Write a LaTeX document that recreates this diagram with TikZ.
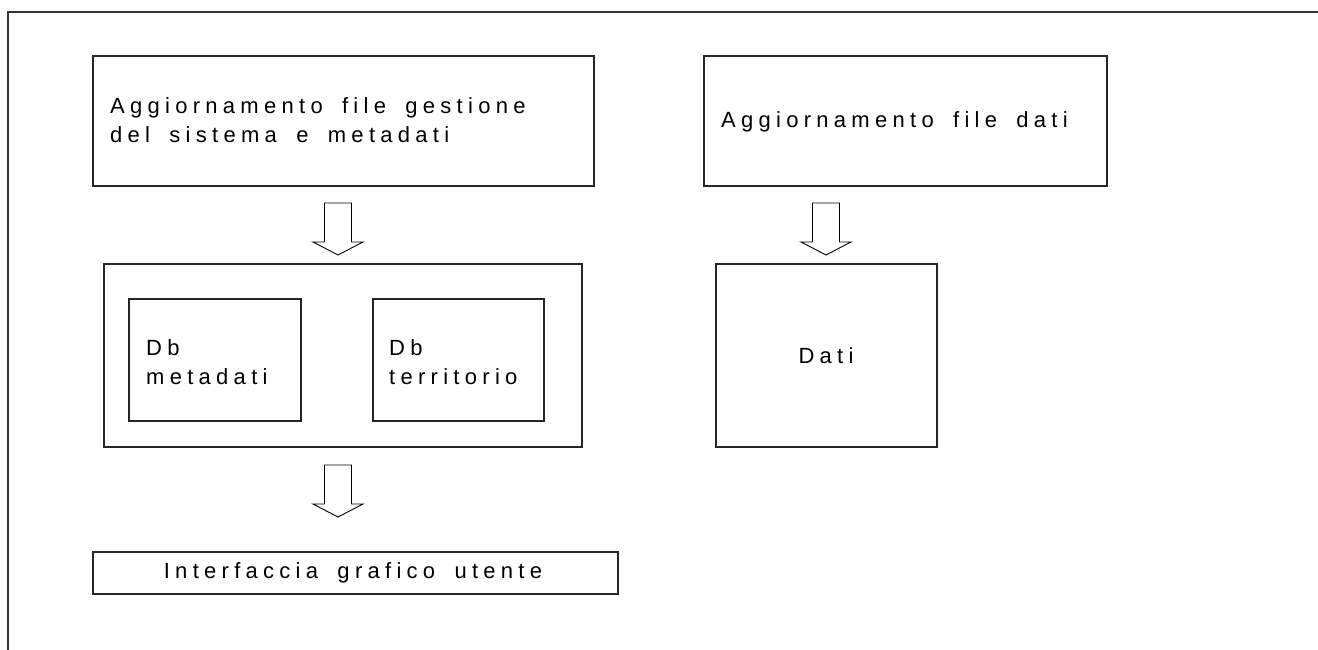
\documentclass[tikz,border=0pt]{standalone}
\usepackage{fontspec}
\setmainfont{Liberation Sans}[LetterSpace=24, WordSpace=1.7]
\begin{document}
\begin{tikzpicture}[x=1pt,y=-1pt,
  box/.style={draw=black!85, line width=1.3pt, rectangle, inner sep=0pt},
  txt/.style={inner sep=0pt, font=\fontsize{22}{29}\selectfont},
  frame/.style={draw=black!80, line width=1.3pt},
  downarrow/.pic={\draw[black, line width=0.9pt, line join=miter]
     (-13.5,0) -- (13.5,0) -- (13.5,39) -- (25,39) -- (0,52) -- (-25,39) -- (-13.5,39) -- cycle;}
]
\useasboundingbox (0,0) rectangle (1318,650);
\fill[white] (0,0) rectangle (1318,650);
% outer frame (left and top sides only)
\coordinate (fbl) at (8,651);
\coordinate (ftl) at (8,12);
\coordinate (ftr) at (1319,12);
\draw[frame] (fbl) -- (ftl) -- (ftr);

% top boxes
\node[box, minimum width=501, minimum height=130] (gest) at (343.5,121) {};
\node[txt, anchor=west, align=left] (gesttxt) at (110,120)
  {Aggiornamento file gestione\\del sistema e metadati};
\node[box, minimum width=403, minimum height=130] (agg) at (905.5,121) {};
\node[txt, anchor=west] (aggtxt) at (721,122)
  {Aggiornamento file dati};

% database group
\node[box, minimum width=478, minimum height=183] (db) at (343,355.5) {};
\node[box, minimum width=172, minimum height=122] (dbmeta) at (215,360) {};
\node[txt, anchor=west, align=left] (dbmetatxt) at (146,362)
  {Db\\metadati};
\node[box, minimum width=171, minimum height=122] (dbterr) at (458.5,360) {};
\node[txt, anchor=west, align=left] (dbterrtxt) at (389,362)
  {Db\\territorio};

% dati
\node[box, minimum width=221, minimum height=183] (dati) at (826.5,355.5) {};
\node[txt] (datitxt) at (826,356) {Dati};

% interfaccia
\node[box, minimum width=525, minimum height=42] (gui) at (355.5,573) {};
\node[txt] (guitxt) at (353,573) {Interfaccia grafico utente};

% block arrows
\pic at (338,203) {downarrow};
\pic at (826,203) {downarrow};
\pic at (338,465) {downarrow};
\end{tikzpicture}
\end{document}
